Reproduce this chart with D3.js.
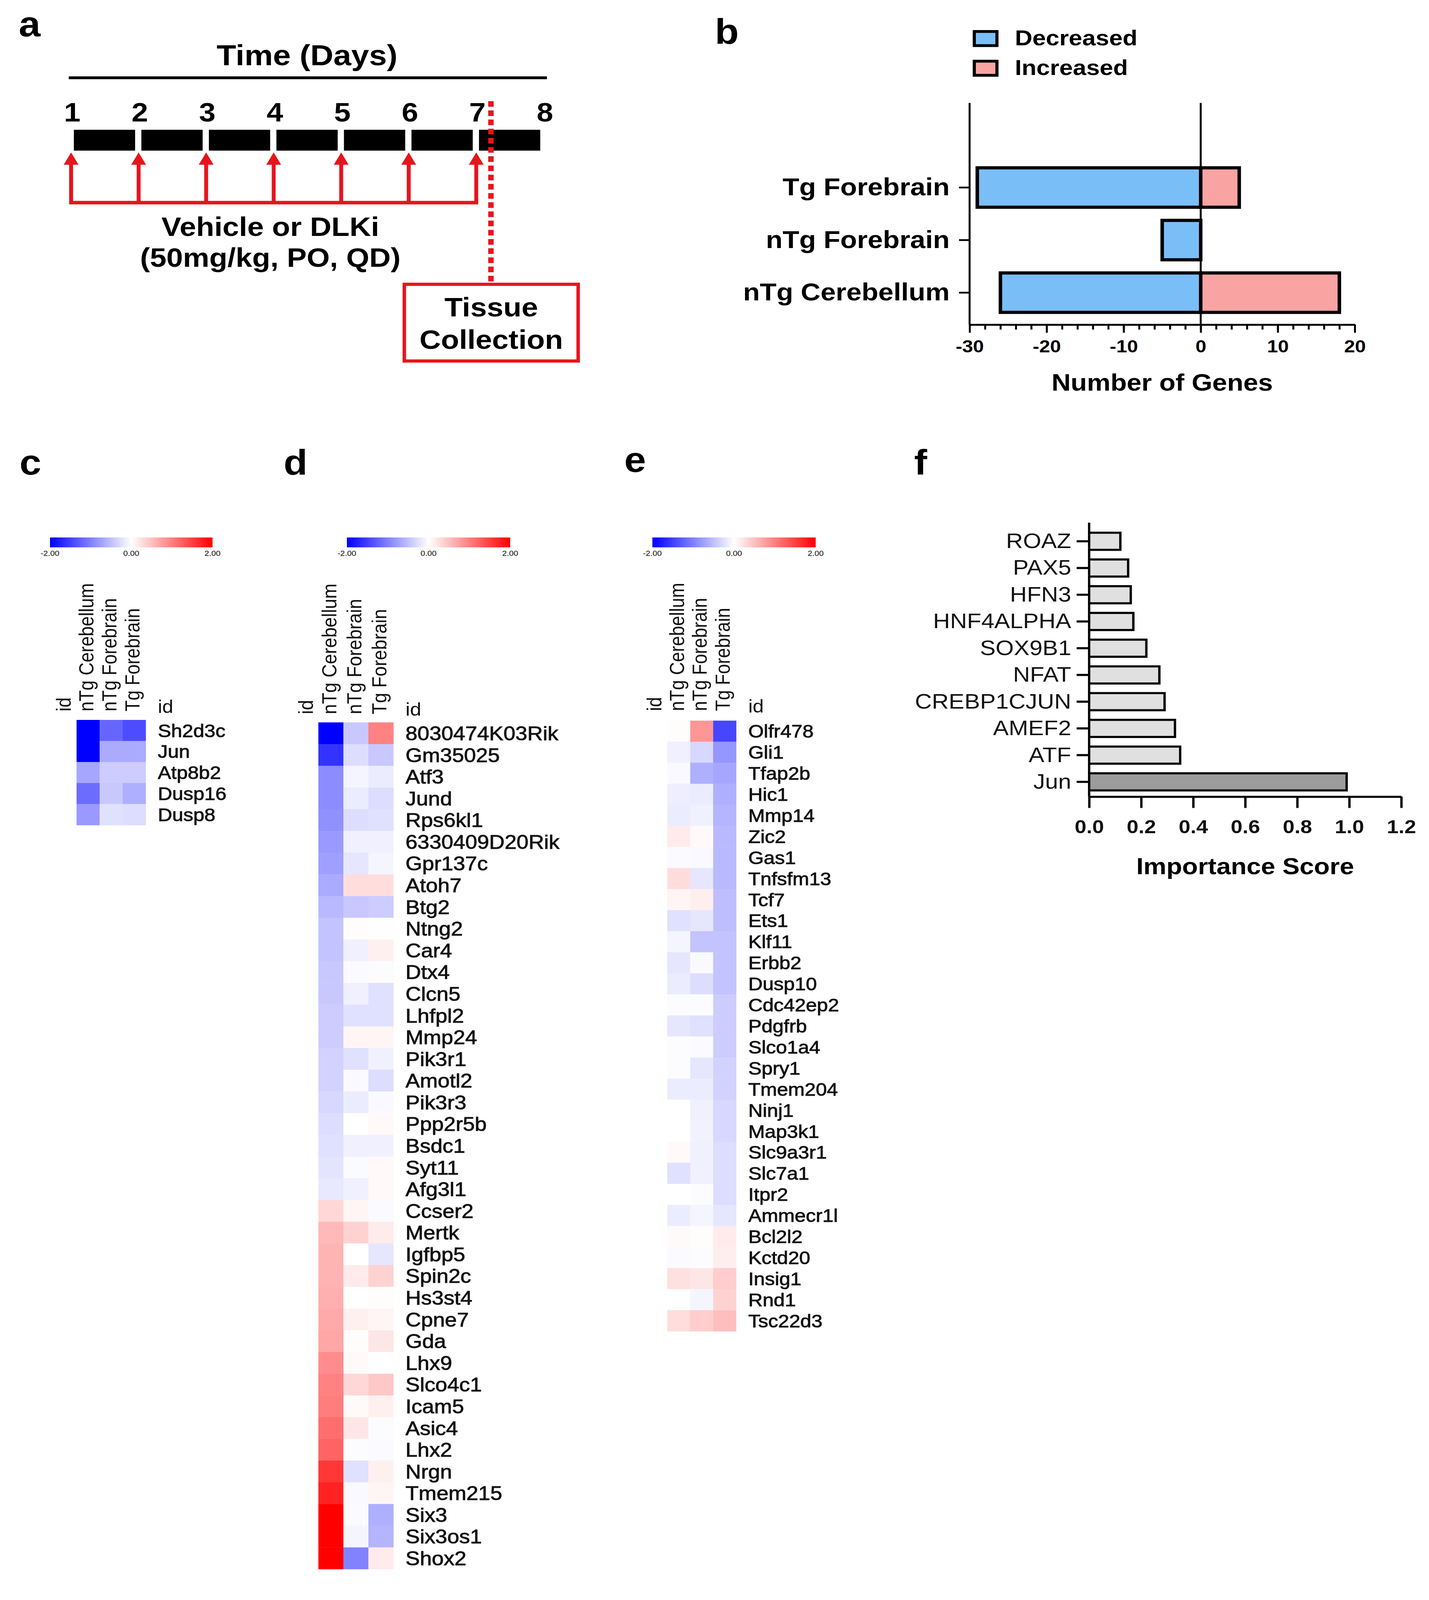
<!DOCTYPE html>
<html>
<head>
<meta charset="utf-8">
<script src="https://cdn.jsdelivr.net/npm/d3@7"></script>
<style>
  html, body { margin: 0; background: #fff; overflow: hidden; }
  svg { display: block; }
  text { font-family: "Liberation Sans", Arial, Helvetica, sans-serif; }
</style>
</head>
<body>
<svg id="fig"></svg>
<script>
/* global d3 */

// ---- data ----
var days = [1, 2, 3, 4, 5, 6, 7, 8];
var doseDays = [1, 2, 3, 4, 5, 6, 7];

var tissues = ['Tg Forebrain', 'nTg Forebrain', 'nTg Cerebellum'];
var decreased = [-29, -5, -26];
var increased = [5, 0, 18];
var geneTicks = [-30, -20, -10, 0, 10, 20];
var geneMinorTicks = [-30, -28, -26, -24, -22, -20, -18, -16, -14, -12, -10, -8, -6, -4, -2, 0, 2, 4, 6, 8, 10, 12, 14, 16, 18, 20];

var heatCols = ['nTg Cerebellum', 'nTg Forebrain', 'Tg Forebrain'];
var scaleTicks = [-2, 0, 2];

var genesC = ['Sh2d3c', 'Jun', 'Atp8b2', 'Dusp16', 'Dusp8'];
var valuesC = [
  [-2.0, -1.2, -1.4],
  [-2.0, -0.67, -0.67],
  [-0.7, -0.4, -0.4],
  [-1.15, -0.43, -0.63],
  [-0.8, -0.24, -0.27]
];

var genesD = ['8030474K03Rik', 'Gm35025', 'Atf3', 'Jund', 'Rps6kl1', '6330409D20Rik', 'Gpr137c',
  'Atoh7', 'Btg2', 'Ntng2', 'Car4', 'Dtx4', 'Clcn5', 'Lhfpl2', 'Mmp24', 'Pik3r1', 'Amotl2',
  'Pik3r3', 'Ppp2r5b', 'Bsdc1', 'Syt11', 'Afg3l1', 'Ccser2', 'Mertk', 'Igfbp5', 'Spin2c',
  'Hs3st4', 'Cpne7', 'Gda', 'Lhx9', 'Slco4c1', 'Icam5', 'Asic4', 'Lhx2', 'Nrgn', 'Tmem215',
  'Six3', 'Six3os1', 'Shox2'];
var valuesD = [
  [-2.0, -0.43, 0.98],
  [-1.6, -0.27, -0.43],
  [-0.9, -0.08, -0.15],
  [-0.9, -0.15, -0.27],
  [-0.87, -0.27, -0.24],
  [-0.8, -0.12, -0.12],
  [-0.75, -0.2, -0.08],
  [-0.67, 0.27, 0.27],
  [-0.55, -0.43, -0.4],
  [-0.47, 0.02, 0.01],
  [-0.47, -0.12, 0.12],
  [-0.43, -0.04, -0.02],
  [-0.43, -0.12, -0.24],
  [-0.4, -0.24, -0.24],
  [-0.4, 0.08, 0.08],
  [-0.35, -0.24, -0.12],
  [-0.35, -0.05, -0.27],
  [-0.31, -0.15, -0.05],
  [-0.27, 0.0, 0.05],
  [-0.24, -0.12, -0.12],
  [-0.21, -0.04, 0.05],
  [-0.18, -0.12, 0.05],
  [0.31, 0.08, -0.04],
  [0.55, 0.35, 0.16],
  [0.59, 0.0, -0.2],
  [0.59, 0.16, 0.35],
  [0.63, 0.0, 0.02],
  [0.67, 0.12, 0.08],
  [0.7, 0.02, 0.2],
  [0.9, 0.04, 0.0],
  [0.98, 0.31, 0.43],
  [1.02, 0.04, 0.12],
  [1.14, 0.2, -0.02],
  [1.22, -0.02, -0.04],
  [1.57, -0.24, 0.12],
  [1.73, -0.05, 0.08],
  [2.0, -0.04, -0.63],
  [2.0, -0.08, -0.59],
  [2.0, -0.98, 0.16]
];

var genesE = ['Olfr478', 'Gli1', 'Tfap2b', 'Hic1', 'Mmp14', 'Zic2', 'Gas1', 'Tnfsfm13', 'Tcf7',
  'Ets1', 'Klf11', 'Erbb2', 'Dusp10', 'Cdc42ep2', 'Pdgfrb', 'Slco1a4', 'Spry1', 'Tmem204',
  'Ninj1', 'Map3k1', 'Slc9a3r1', 'Slc7a1', 'Itpr2', 'Ammecr1l', 'Bcl2l2', 'Kctd20', 'Insig1',
  'Rnd1', 'Tsc22d3'];
var valuesE = [
  [0.02, 0.82, -1.45],
  [-0.12, -0.31, -0.82],
  [-0.05, -0.63, -0.7],
  [-0.13, -0.15, -0.63],
  [-0.15, -0.12, -0.59],
  [0.16, 0.05, -0.55],
  [-0.04, -0.05, -0.55],
  [0.27, -0.2, -0.55],
  [0.08, 0.13, -0.51],
  [-0.24, -0.2, -0.51],
  [-0.08, -0.47, -0.47],
  [-0.2, -0.05, -0.47],
  [-0.15, -0.27, -0.47],
  [-0.02, -0.02, -0.4],
  [-0.2, -0.24, -0.4],
  [-0.02, -0.04, -0.4],
  [-0.02, -0.2, -0.35],
  [-0.15, -0.15, -0.35],
  [0.0, -0.12, -0.31],
  [0.0, -0.1, -0.31],
  [0.05, -0.12, -0.27],
  [-0.24, -0.12, -0.27],
  [0.0, -0.02, -0.27],
  [-0.15, -0.08, -0.2],
  [0.04, 0.02, 0.16],
  [-0.04, -0.02, 0.13],
  [0.24, 0.2, 0.39],
  [0.0, -0.08, 0.35],
  [0.27, 0.39, 0.51]
];

var tfNames = ['ROAZ', 'PAX5', 'HFN3', 'HNF4ALPHA', 'SOX9B1', 'NFAT', 'CREBP1CJUN', 'AMEF2', 'ATF', 'Jun'];
var tfScores = [0.12, 0.15, 0.16, 0.17, 0.22, 0.27, 0.29, 0.33, 0.35, 0.99];
var scoreTicks = [0, 0.2, 0.4, 0.6, 0.8, 1.0, 1.2];

// ---- drawing ----
// the figure is laid out on a 3658 x 4525 canvas and stretched to whatever the window shows
var W = 3658, H = 4525;
var svg = d3.select('#fig')
  .attr('viewBox', '0 0 ' + W + ' ' + H)
  .attr('preserveAspectRatio', 'none')
  .attr('width', window.innerWidth || W)
  .attr('height', window.innerHeight || H);

svg.append('rect').attr('width', W).attr('height', H).attr('fill', '#fff');

var RED = '#e8141c';
var FONT = '"Liberation Sans", Arial, Helvetica, sans-serif';

function panelLetter(t, x, y) {
  svg.append('text')
    .attr('x', x).attr('y', y)
    .attr('font-size', 100).attr('font-weight', 'bold')
    .text(t);
}

function timeline() {
  var g = svg.append('g');
  var x = d3.scaleLinear().domain([1, 8]).range([185, 1395]);

  g.append('text')
    .attr('x', 786).attr('y', 184)
    .attr('text-anchor', 'middle')
    .attr('font-size', 82).attr('font-weight', 'bold')
    .text('Time (Days)');

  g.append('line')
    .attr('x1', 176).attr('x2', 1400)
    .attr('y1', 220).attr('y2', 220)
    .attr('stroke', '#000').attr('stroke-width', 8);

  g.selectAll('.day')
    .data(days)
    .enter().append('text')
    .attr('class', 'day')
    .attr('x', function (d) { return x(d); })
    .attr('y', 344)
    .attr('text-anchor', 'middle')
    .attr('font-size', 76).attr('font-weight', 'bold')
    .text(function (d) { return d; });

  g.selectAll('.seg')
    .data(doseDays)
    .enter().append('rect')
    .attr('class', 'seg')
    .attr('x', function (d) { return x(d) + 4; })
    .attr('width', function (d) { return x(d + 1) - x(d) - 16; })
    .attr('y', 367).attr('height', 59)
    .attr('fill', '#000');

  // dosing arrows
  g.append('line')
    .attr('x1', x(1) - 3).attr('x2', x(7) - 3)
    .attr('y1', 573).attr('y2', 573)
    .attr('stroke', RED).attr('stroke-width', 10)
    .attr('stroke-linecap', 'square');

  g.selectAll('.shaft')
    .data(doseDays)
    .enter().append('line')
    .attr('x1', function (d) { return x(d) - 3; })
    .attr('x2', function (d) { return x(d) - 3; })
    .attr('y1', 573).attr('y2', 460)
    .attr('stroke', RED).attr('stroke-width', 10);

  g.selectAll('.head')
    .data(doseDays)
    .enter().append('path')
    .attr('d', function (d) {
      var cx = x(d) - 3;
      return 'M' + cx + ',431L' + (cx - 19) + ',466L' + (cx + 19) + ',466Z';
    })
    .attr('fill', RED);

  // collection day marker
  var xc = x(7.2);
  g.append('line')
    .attr('x1', xc).attr('x2', xc)
    .attr('y1', 286).attr('y2', 800)
    .attr('stroke', RED).attr('stroke-width', 14)
    .attr('stroke-dasharray', '16,10');

  g.append('rect')
    .attr('x', 1035).attr('y', 804)
    .attr('width', 445).attr('height', 217)
    .attr('fill', '#fff')
    .attr('stroke', RED).attr('stroke-width', 9);

  g.selectAll('.box')
    .data(['Tissue', 'Collection'])
    .enter().append('text')
    .attr('x', 1257.5)
    .attr('y', function (d, i) { return 895 + i * 91; })
    .attr('text-anchor', 'middle')
    .attr('font-size', 76).attr('font-weight', 'bold')
    .text(function (d) { return d; });

  g.selectAll('.veh')
    .data(['Vehicle or DLKi', '(50mg/kg, PO, QD)'])
    .enter().append('text')
    .attr('x', 692)
    .attr('y', function (d, i) { return 667 + i * 88; })
    .attr('text-anchor', 'middle')
    .attr('font-size', 76).attr('font-weight', 'bold')
    .text(function (d) { return d; });
}

function geneCounts() {
  var g = svg.append('g');
  var x = d3.scaleLinear().domain([-30, 20]).range([2482, 3468]);
  var y = d3.scaleBand().domain(tissues).range([456, 902]).paddingInner(0.25).paddingOuter(0.125);
  var top = 291, base = 918;
  var rows = tissues.map(function (t, i) { return {t: t, dec: decreased[i], inc: increased[i]}; });

  g.selectAll('.dec')
    .data(rows)
    .enter().append('rect')
    .attr('x', function (d) { return x(d.dec); })
    .attr('width', function (d) { return x(0) - x(d.dec); })
    .attr('y', function (d) { return y(d.t); })
    .attr('height', y.bandwidth())
    .attr('fill', '#7abef8')
    .attr('stroke', '#000').attr('stroke-width', 9);

  g.selectAll('.inc')
    .data(rows.filter(function (d) { return d.inc > 0; }))
    .enter().append('rect')
    .attr('x', x(0))
    .attr('width', function (d) { return x(d.inc) - x(0); })
    .attr('y', function (d) { return y(d.t); })
    .attr('height', y.bandwidth())
    .attr('fill', '#faa3a3')
    .attr('stroke', '#000').attr('stroke-width', 9);

  g.append('line')
    .attr('x1', x(0)).attr('x2', x(0))
    .attr('y1', top).attr('y2', base)
    .attr('stroke', '#000').attr('stroke-width', 5);

  g.append('line')
    .attr('x1', x(-30)).attr('x2', x(-30))
    .attr('y1', top).attr('y2', base)
    .attr('stroke', '#000').attr('stroke-width', 5);

  var ya = g.append('g')
    .attr('transform', 'translate(' + x(-30) + ',0)')
    .call(d3.axisLeft(y).tickSize(27).tickPadding(24));
  ya.select('.domain').remove();
  ya.selectAll('line').attr('stroke-width', 5);
  ya.selectAll('text')
    .attr('font-size', 70).attr('font-weight', 'bold')
    .attr('font-family', FONT)
    .attr('fill', '#000');

  var minor = g.append('g')
    .attr('transform', 'translate(0,' + base + ')')
    .call(d3.axisBottom(x).tickValues(geneMinorTicks).tickSize(14).tickSizeOuter(0).tickFormat(''));
  minor.selectAll('line').attr('stroke-width', 5);
  minor.select('.domain').attr('stroke-width', 5);

  var xa = g.append('g')
    .attr('transform', 'translate(0,' + base + ')')
    .call(d3.axisBottom(x).tickValues(geneTicks).tickSize(23).tickSizeOuter(0).tickPadding(20)
      .tickFormat(function (d) { return String(d); }));
  xa.select('.domain').attr('stroke-width', 5);
  xa.selectAll('line').attr('stroke-width', 5);
  xa.selectAll('text')
    .attr('font-size', 50).attr('font-weight', 'bold')
    .attr('font-family', FONT)
    .attr('fill', '#000');

  g.append('text')
    .attr('x', (x(-30) + x(20)) / 2).attr('y', 1105)
    .attr('text-anchor', 'middle')
    .attr('font-size', 68).attr('font-weight', 'bold')
    .text('Number of Genes');

  var legend = [{label: 'Decreased', color: '#7abef8'}, {label: 'Increased', color: '#faa3a3'}];
  var lg = g.selectAll('.leg')
    .data(legend)
    .enter().append('g')
    .attr('transform', function (d, i) { return 'translate(2494,' + (89 + i * 84) + ')'; });
  lg.append('rect')
    .attr('width', 58).attr('height', 40)
    .attr('fill', function (d) { return d.color; })
    .attr('stroke', '#000').attr('stroke-width', 8);
  lg.append('text')
    .attr('x', 104).attr('y', 39)
    .attr('font-size', 62).attr('font-weight', 'bold')
    .text(function (d) { return d.label; });
}

var color = d3.scaleLinear().domain([-2, 0, 2]).range(['#0000ff', '#ffffff', '#ff0000']).clamp(true);

var grad = svg.append('defs').append('linearGradient').attr('id', 'cbar');
grad.selectAll('stop')
  .data([-2, -1, 0, 1, 2])
  .enter().append('stop')
  .attr('offset', function (d) { return ((d + 2) / 4 * 100) + '%'; })
  .attr('stop-color', function (d) { return color(d); });

function heatmap(genes, values, o) {
  var g = svg.append('g');
  var cx = d3.scaleBand().domain(heatCols).range([o.left, o.left + 3 * o.cw]);
  var cy = d3.scaleBand().domain(genes).range([o.top, o.top + genes.length * o.ch]);
  var right = o.left + 3 * o.cw;

  // colour bar
  var bx = d3.scaleLinear().domain([-2, 2]).range([o.barX, o.barX + o.barW]);
  g.append('rect')
    .attr('x', bx(-2)).attr('y', 1520)
    .attr('width', o.barW).attr('height', 28)
    .attr('fill', 'url(#cbar)');
  g.selectAll('.cbt')
    .data(scaleTicks)
    .enter().append('text')
    .attr('x', function (d) { return bx(d); })
    .attr('y', 1572)
    .attr('text-anchor', 'middle')
    .attr('font-size', 21)
    .attr('fill', '#333')
    .attr('stroke', '#333').attr('stroke-width', 0.4)
    .text(function (d) { return d.toFixed(2); });

  // cells
  var cells = [];
  genes.forEach(function (gn, i) {
    heatCols.forEach(function (c, j) { cells.push({gene: gn, col: c, v: values[i][j]}); });
  });
  g.selectAll('.cell')
    .data(cells)
    .enter().append('rect')
    .attr('x', function (d) { return cx(d.col); })
    .attr('y', function (d) { return cy(d.gene); })
    .attr('width', cx.bandwidth() + 0.5)
    .attr('height', cy.bandwidth() + 0.5)
    .attr('fill', function (d) { return color(d.v); });

  // column headers
  var off = 0.26 * o.colFs;
  g.selectAll('.colh')
    .data(heatCols)
    .enter().append('text')
    .attr('transform', function (d) {
      return 'translate(' + (cx(d) + cx.bandwidth() / 2 + off) + ',' + o.labelBottom + ') rotate(-90)';
    })
    .attr('font-size', o.colFs)
    .attr('fill', '#111')
    .text(function (d) { return d; });

  g.append('text')
    .attr('transform', 'translate(' + (o.left - 28 + off) + ',' + o.labelBottom + ') rotate(-90)')
    .attr('font-size', o.colFs).attr('fill', '#111')
    .text('id');

  g.append('text')
    .attr('x', right + 31).attr('y', o.labelBottom + 4)
    .attr('font-size', o.colFs).attr('fill', '#111')
    .text('id');

  g.selectAll('.rowl')
    .data(genes)
    .enter().append('text')
    .attr('x', right + 31)
    .attr('y', function (d) { return cy(d) + cy.bandwidth() / 2 + 0.36 * o.fs; })
    .attr('font-size', o.fs)
    .attr('fill', '#111')
    .attr('stroke', '#111').attr('stroke-width', 1.2)
    .text(function (d) { return d; });
}

function importance() {
  var g = svg.append('g');
  var x = d3.scaleLinear().domain([0, 1.2]).range([2788, 3587]);
  var y = d3.scaleBand().domain(tfNames).range([1493, 2249]).paddingInner(0.36).paddingOuter(0.18);
  var top = 1478, base = 2253;

  g.selectAll('.tf')
    .data(tfNames)
    .enter().append('rect')
    .attr('x', x(0))
    .attr('y', function (d) { return y(d); })
    .attr('width', function (d, i) { return x(tfScores[i]) - x(0); })
    .attr('height', y.bandwidth())
    .attr('fill', function (d) { return d === 'Jun' ? '#9c9c9c' : '#e0e0e0'; })
    .attr('stroke', '#000').attr('stroke-width', 6);

  g.append('line')
    .attr('x1', x(0)).attr('x2', x(0))
    .attr('y1', top).attr('y2', base)
    .attr('stroke', '#000').attr('stroke-width', 6);

  var ya = g.append('g')
    .attr('transform', 'translate(' + x(0) + ',0)')
    .call(d3.axisLeft(y).tickSize(32).tickPadding(14));
  ya.select('.domain').remove();
  ya.selectAll('line').attr('stroke-width', 6);
  ya.selectAll('text')
    .attr('font-size', 60)
    .attr('font-family', FONT)
    .attr('fill', '#111');

  var xa = g.append('g')
    .attr('transform', 'translate(0,' + base + ')')
    .call(d3.axisBottom(x).tickValues(scoreTicks).tickSize(32).tickSizeOuter(0).tickPadding(33)
      .tickFormat(d3.format('.1f')));
  xa.select('.domain').attr('stroke-width', 6);
  xa.selectAll('line').attr('stroke-width', 6);
  xa.selectAll('text')
    .attr('font-size', 54).attr('font-weight', 'bold')
    .attr('font-family', FONT)
    .attr('fill', '#111');

  g.append('text')
    .attr('x', (x(0) + x(1.2)) / 2).attr('y', 2472)
    .attr('text-anchor', 'middle')
    .attr('font-size', 66).attr('font-weight', 'bold')
    .text('Importance Score');
}

panelLetter('a', 48, 103);
panelLetter('b', 1830, 124);
panelLetter('c', 50, 1342);
panelLetter('d', 726, 1342);
panelLetter('e', 1598, 1334);
panelLetter('f', 2340, 1342);

timeline();
geneCounts();
heatmap(genesC, valuesC, {left: 196, cw: 59, top: 2036, ch: 59.5, barX: 128, barW: 416, labelBottom: 2012, fs: 51, colFs: 51});
heatmap(genesD, valuesD, {left: 815, cw: 64, top: 2043, ch: 61.4, barX: 888, barW: 418, labelBottom: 2020, fs: 55, colFs: 52});
heatmap(genesE, valuesE, {left: 1708, cw: 58.8, top: 2038, ch: 59.55, barX: 1670, barW: 418, labelBottom: 2011, fs: 51, colFs: 51});
importance();
</script>
</body>
</html>
